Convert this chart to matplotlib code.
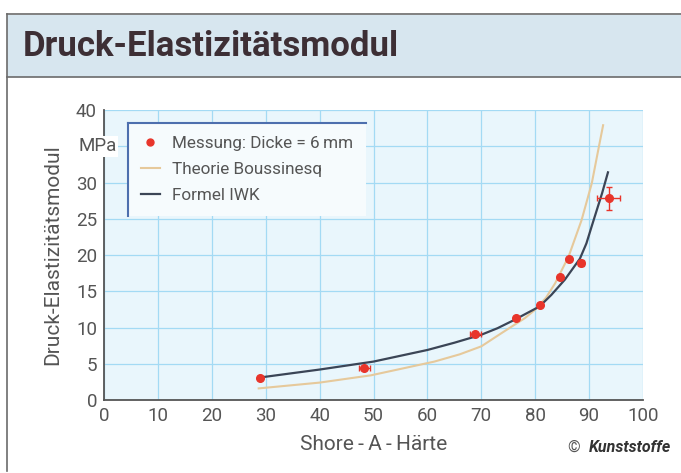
import matplotlib
matplotlib.use('Agg')
from matplotlib import pyplot as plt
from matplotlib.lines import Line2D
from matplotlib.patches import Rectangle

# measured values (Shore A hardness vs compressive modulus in MPa)
shore = [28.9, 48.3, 68.9, 76.4, 80.8, 84.6, 86.3, 88.5, 93.6]
modul = [3.1, 4.4, 9.1, 11.3, 13.1, 16.9, 19.5, 18.9, 27.8]
shore_err = [0.4, 1.0, 1.0, 0.3, 0.3, 0.3, 0.3, 0.5, 2.1]
modul_err = [0.2, 0.2, 0.3, 0.2, 0.2, 0.2, 0.2, 0.4, 1.6]

# curve: theory Boussinesq
bous_x = [28.7, 40, 49.5, 55.1, 61.3, 66, 70, 73.7, 78.1, 79.9, 82, 83.7, 86.2, 88.6, 90.5, 91.7, 92.6]
bous_y = [1.6, 2.4, 3.4, 4.3, 5.3, 6.3, 7.4, 9.2, 11.3, 12.4, 14.1, 16.1, 19.8, 24.8, 29.9, 34.5, 37.9]

# curve: formula IWK
iwk_x = [28.9, 40, 50, 55, 60, 65, 70, 73, 76, 80.8, 83, 85.5, 88.3, 89.5, 90.5, 92.4, 93.5]
iwk_y = [3.1, 4.2, 5.3, 6.1, 6.9, 7.9, 9.0, 9.9, 11.0, 12.9, 14.5, 16.6, 19.5, 21.6, 24.0, 28.5, 31.4]

xticks = [0, 10, 20, 30, 40, 50, 60, 70, 80, 90, 100]
yticks = [0, 5, 10, 15, 20, 25, 30, 35, 40]
ylabels = ['0', '5', '10', '15', '20', '25', '30', '', '40']

plt.rcParams['font.family'] = ['Roboto', 'DejaVu Sans']

txt = '#555555'
fig = plt.figure(figsize=(6.81, 4.73), dpi=100)

# header band
fig.patches.append(Rectangle((0.011, 1 - 77/473), 1.0, 62/473, transform=fig.transFigure,
                             facecolor='#d7e6ef', edgecolor='none', zorder=0))
fig.lines.append(Line2D([0.011, 1], [1 - 14/473] * 2, transform=fig.transFigure, color='#6b6b6b', lw=1.2))
fig.lines.append(Line2D([0.011, 1], [1 - 77/473] * 2, transform=fig.transFigure, color='#6b6b6b', lw=1.2))
fig.lines.append(Line2D([0.011, 0.011], [0.005, 1 - 14/473], transform=fig.transFigure, color='#6b6b6b', lw=1.2))
fig.text(23/681, 1 - 46/473, 'Druck-Elastizitätsmodul', fontsize=25, fontweight='bold',
         color='#3d2f35', va='center', ha='left')

ax = fig.add_axes([104/681, 73/473, 539/681, 290/473])
ax.set_facecolor('#e9f6fc')
ax.set_xlim(0, 100)
ax.set_ylim(0, 40)
ax.set_xticks(xticks)
ax.set_yticks(yticks)
ax.set_yticklabels(ylabels)
ax.grid(True, color='#a3daf4', lw=0.9)
ax.set_axisbelow(True)
ax.tick_params(length=0, labelsize=13.5, labelcolor=txt, pad=5)
for s in ['top', 'right']:
    ax.spines[s].set_visible(False)
for s in ['left', 'bottom']:
    ax.spines[s].set_color('#555555')
    ax.spines[s].set_linewidth(1.3)

ax.plot(bous_x, bous_y, color='#e6c99b', lw=1.5, label='Theorie Boussinesq')
ax.plot(iwk_x, iwk_y, color='#3b4556', lw=1.6, label='Formel IWK')
ax.errorbar(shore, modul, xerr=shore_err, yerr=modul_err, fmt='o', color='#e8352b',
            ms=5.5, elinewidth=1, capsize=2.5, zorder=5)

h, l = ax.get_legend_handles_labels()
dot = Line2D([], [], ls='none', marker='o', ms=5, color='#e8352b')
leg = ax.legend([dot] + h, ['Messung: Dicke = 6\u2009mm'] + l, loc='upper left',
                bbox_to_anchor=(0.045, 0.955), fontsize=12.3, borderaxespad=0,
                frameon=True, fancybox=False, facecolor='#f6fbfd', edgecolor='none',
                framealpha=1, handlelength=1.1, handletextpad=0.7, borderpad=0.75,
                labelspacing=0.65)
for t in leg.get_texts():
    t.set_color(txt)

ax.text(-1.2, 35, 'MPa', fontsize=13.5, color=txt, ha='center', va='center',
        bbox=dict(facecolor='white', edgecolor='none', pad=1), clip_on=False, zorder=10)

ax.set_xlabel('Shore\u2009-\u2009A\u2009-\u2009Härte', fontsize=15, color=txt, labelpad=7)
ax.set_ylabel('Druck-Elastizitätsmodul', fontsize=15, color=txt, labelpad=10)

fig.canvas.draw()
bb = leg.get_window_extent().transformed(fig.transFigure.inverted())
fig.lines.append(Line2D([bb.x0, bb.x1], [bb.y1, bb.y1], transform=fig.transFigure, color='#4d6fae', lw=1.5))
fig.lines.append(Line2D([bb.x0, bb.x0], [bb.y0, bb.y1], transform=fig.transFigure, color='#4d6fae', lw=1.5))

fig.text(0.985, 1 - 447/473, 'Kunststoffe', fontsize=11.5, fontweight='bold', style='italic',
         color='#333333', ha='right', va='center')
fig.text(0.852, 1 - 447/473, '©', fontsize=11.5, color=txt, ha='right', va='center')

fig.savefig('out.png', dpi=100)
